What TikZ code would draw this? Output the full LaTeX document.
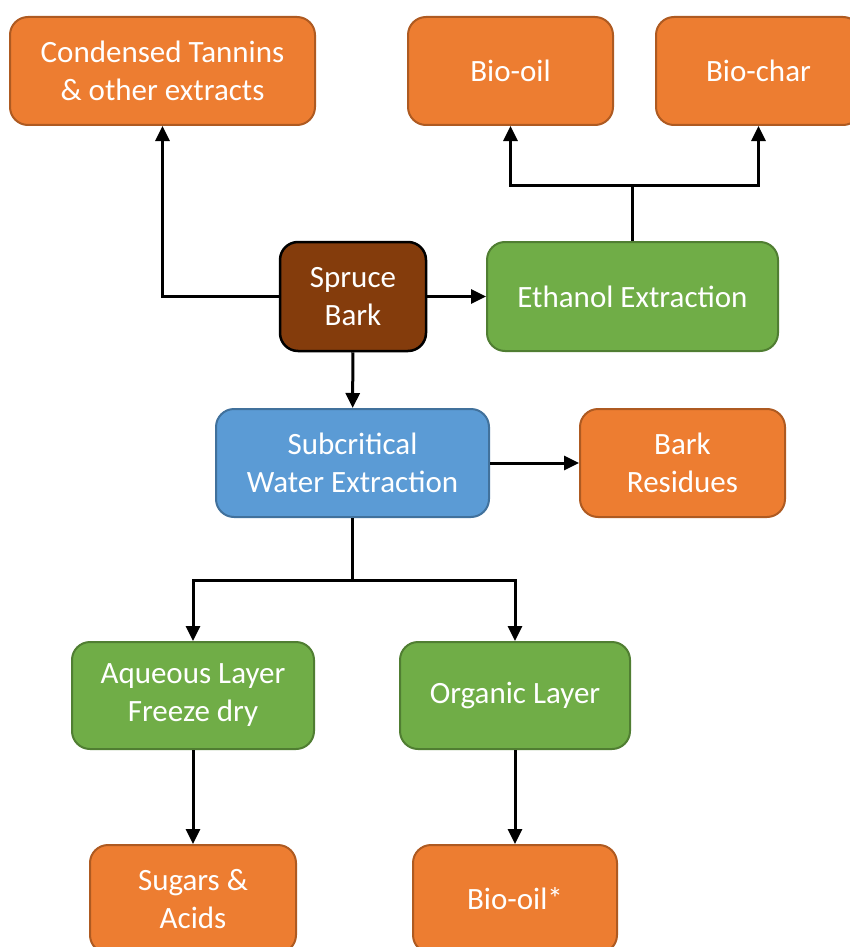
\documentclass[tikz,border=0pt]{standalone}
\usepackage{fontspec}
\setmainfont{Carlito}
\usetikzlibrary{arrows.meta}
\definecolor{boxorange}{HTML}{ED7D31}
\definecolor{lineorange}{HTML}{AE5A21}
\definecolor{boxgreen}{HTML}{70AD47}
\definecolor{linegreen}{HTML}{507E32}
\definecolor{boxblue}{HTML}{5B9BD5}
\definecolor{lineblue}{HTML}{41719C}
\definecolor{boxbrown}{HTML}{843C0C}
\tikzset{
	stage/.style={rounded corners=18pt, line width=2pt, text=white, align=center,
		font=\fontsize{31}{38}\selectfont, inner sep=0pt},
	product/.style={stage, fill=boxorange, draw=lineorange},
	process/.style={stage, fill=boxgreen, draw=linegreen},
	swebox/.style={stage, fill=boxblue, draw=lineblue},
	barkbox/.style={stage, fill=boxbrown, draw=black, line width=2.5pt},
	flow/.style={line width=3pt, -{Triangle[length=15pt,width=14pt]}}
}
\begin{document}
\begin{tikzpicture}[x=1pt,y=-1pt]
		\useasboundingbox (0,0) rectangle (849,947);
		\node[product, minimum width=305pt, minimum height=108pt] (tannins) at (162.5,71) {Condensed Tannins\\\& other extracts};
		\node[product, minimum width=205pt, minimum height=108pt] (biooil) at (510.5,71) {Bio-oil};
		\node[product, minimum width=205pt, minimum height=108pt] (biochar) at (758.5,71) {Bio-char};
		\node[barkbox, minimum width=146pt, minimum height=109pt] (spruce) at (353,296.5) {Spruce\\Bark};
		\node[process, minimum width=291pt, minimum height=109pt] (ethanol) at (632.5,296.5) {Ethanol Extraction};
		\node[swebox, minimum width=273pt, minimum height=108pt] (swe) at (352.5,463) {Subcritical\\Water Extraction};
		\node[product, minimum width=205pt, minimum height=108pt] (residues) at (682.5,463) {Bark\\Residues};
		\node[process, minimum width=242pt, minimum height=107pt] (aqueous) at (193,695.5) {Aqueous Layer\\Freeze dry};
		\node[process, minimum width=230pt, minimum height=107pt] (organic) at (515,695.5) {Organic Layer};
		\node[product, minimum width=206pt, minimum height=108pt] (sugars) at (193,899) {Sugars \&\\Acids};
		\node[product, minimum width=204pt, minimum height=108pt] (biooilb) at (515,899) {Bio-oil*};
		\coordinate (ethsplit) at (632.5,185);
		\coordinate (swesplit) at (352.5,580);
		\draw[flow] (spruce.west) -| (tannins.south);
		\draw[flow] (spruce) -- (ethanol);
		\draw[flow] (ethanol.north) -- (ethsplit) -| (biooil.south);
		\draw[flow] (ethsplit) -| (biochar.south);
		\draw[flow] (spruce) -- (swe);
		\draw[flow] (swe) -- (residues);
		\draw[flow] (swe.south) -- (swesplit) -| (aqueous.north);
		\draw[flow] (swesplit) -| (organic.north);
		\draw[flow] (aqueous) -- (sugars);
		\draw[flow] (organic) -- (biooilb);
	\end{tikzpicture}
\end{document}
